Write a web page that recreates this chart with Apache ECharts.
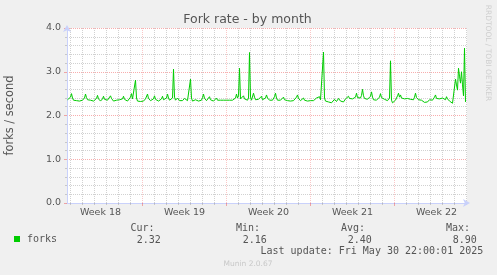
<!DOCTYPE html>
<html><head><meta charset="utf-8">
<script src="https://cdn.jsdelivr.net/npm/echarts@6/dist/echarts.min.js"></script>
<style>html,body{margin:0;padding:0;background:#f0f0f0;}#c{width:497px;height:275px;}</style>
</head><body><div id="c"></div>
<script>
// x values are in days since Sun 27 Apr 2025 00:00, one sample every 2 hours
const seriesName = 'forks';
const startDay = 0.75;
const stepDays = 1 / 12;
const forks = [
 2.36,2.35,2.38,2.42,2.50,2.40,2.35,2.33,2.36,2.34,2.37,2.35,2.33,2.34,2.36,2.35,2.33,2.40,2.49,2.41,
 2.36,2.34,2.33,2.35,2.34,2.36,2.33,2.31,2.35,2.39,2.46,2.38,2.34,2.33,2.35,2.38,2.44,2.37,2.34,2.33,
 2.35,2.34,2.38,2.45,2.39,2.35,2.33,2.34,2.36,2.35,2.32,2.34,2.36,2.35,2.33,2.38,2.44,2.37,2.34,2.35,
 2.33,2.35,2.37,2.42,2.50,2.38,2.34,2.36,2.81,2.40,2.33,2.35,2.34,2.32,2.36,2.35,2.33,2.35,2.38,2.42,
 2.49,2.39,2.35,2.34,2.36,2.33,2.38,2.45,2.37,2.34,2.35,2.33,2.36,2.34,2.38,2.44,2.36,2.34,2.35,2.40,
 2.49,2.40,2.35,2.34,2.36,2.40,3.06,2.42,2.35,2.33,2.40,2.36,2.34,2.33,2.35,2.34,2.36,2.39,2.43,2.37,
 2.34,2.35,2.38,2.83,2.40,2.33,2.35,2.32,2.36,2.40,2.35,2.33,2.34,2.36,2.35,2.41,2.49,2.39,2.35,2.34,
 2.36,2.38,2.43,2.36,2.34,2.35,2.33,2.36,2.37,2.40,2.35,2.34,2.36,2.35,2.35,2.35,2.35,2.35,2.35,2.35,
 2.35,2.35,2.35,2.35,2.35,2.35,2.35,2.35,2.40,2.49,2.40,2.45,3.08,2.38,2.34,2.36,2.45,2.38,2.34,2.36,
 2.35,2.40,3.44,2.42,2.35,2.38,2.51,2.42,2.36,2.34,2.35,2.37,2.35,2.39,2.44,2.36,2.34,2.35,2.40,2.47,
 2.40,2.36,2.35,2.33,2.36,2.35,2.38,2.43,2.51,2.40,2.35,2.34,2.37,2.35,2.33,2.38,2.42,2.36,2.35,2.37,
 2.34,2.36,2.35,2.33,2.35,2.36,2.34,2.35,2.38,2.42,2.47,2.39,2.35,2.34,2.36,2.37,2.40,2.35,2.33,2.34,
 2.33,2.32,2.33,2.34,2.32,2.33,2.34,2.33,2.36,2.40,2.37,2.38,2.43,2.36,2.34,2.38,3.45,2.40,2.33,2.30,
 2.29,2.31,2.30,2.32,2.29,2.31,2.33,2.37,2.34,2.32,2.35,2.39,2.35,2.33,2.36,2.34,2.31,2.35,2.38,2.36,
 2.38,2.44,2.39,2.37,2.40,2.38,2.40,2.37,2.42,2.51,2.41,2.39,2.38,2.40,2.46,2.60,2.45,2.39,2.38,2.40,
 2.37,2.35,2.38,2.44,2.54,2.42,2.36,2.35,2.33,2.35,2.36,2.38,2.42,2.50,2.41,2.38,2.42,2.37,2.35,2.33,
 2.34,2.36,2.40,3.25,2.35,2.29,2.28,2.30,2.35,2.38,2.45,2.51,2.42,2.47,2.40,2.37,2.36,2.38,2.35,2.37,
 2.39,2.36,2.43,2.37,2.35,2.38,2.36,2.42,2.51,2.41,2.38,2.36,2.39,2.37,2.35,2.34,2.33,2.30,2.31,2.30,
 2.31,2.33,2.36,2.40,2.37,2.35,2.38,2.42,2.47,2.39,2.37,2.36,2.38,2.35,2.37,2.40,2.43,2.38,2.36,2.43,
 2.38,2.36,2.33,2.31,2.29,2.28,2.29,2.30,2.83,2.70,2.58,3.08,2.90,2.74,3.00,2.70,2.45,3.54,2.31
];
const weekLabels = ['Week 18', 'Week 19', 'Week 20', 'Week 21', 'Week 22'];
const weekMidDays = [3.5, 10.5, 17.5, 24.5, 31.5];
const weekStartDays = [7, 14, 21, 28];
const dayLines = [1,2,3,4,5,6,7,8,9,10,11,12,13,14,15,16,17,18,19,20,21,22,23,24,25,26,27,28,29,30,31,32,33,34];
const xMin = 17 / 24;
const xMax = 17 / 24 + 400 / 12;
const yMin = 0, yMax = 4, yStep = 1;
const title = 'Fork rate - by month';
const yName = 'forks / second';
const statHeaders = ['Cur:', 'Min:', 'Avg:', 'Max:'];
const statValues = ['2.32', '2.16', '2.40', '8.90'];
const lastUpdate = 'Last update: Fri May 30 22:00:01 2025';
const footer = 'Munin 2.0.67';
const watermark = 'RRDTOOL / TOBI OETIKER';

const GREEN = '#00cc00';
const TXT = '#555';
const AXIS = '#c9d1fb';
const MINOR = 'rgba(140,140,140,0.4)';
const MAJOR = 'rgba(235,40,40,0.38)';
const MAJOR_V = 'rgba(235,40,40,0.26)';
const SANS = 'DejaVu Sans';
const MONO = 'DejaVu Sans Mono';

const chart = echarts.init(document.getElementById('c'), null, { renderer: 'canvas' });

const minorDayLines = dayLines.filter(d => weekStartDays.indexOf(d) < 0);

const headerX = [130.5, 236, 341, 446];
const valueX = [136.8, 242.8, 347.8, 452.8];
const graphics = [];
graphics.push({ type: 'text', x: 247.5, y: 19.6, style: { text: title, font: '12.5px "' + SANS + '"', fill: TXT, align: 'center', verticalAlign: 'middle' } });
graphics.push({ type: 'text', x: 10, y: 115.5, rotation: Math.PI / 2, style: { text: yName, font: '11.4px "' + SANS + '"', fill: TXT, align: 'center', verticalAlign: 'middle' } });
graphics.push({ type: 'text', x: 488, y: 53, rotation: -Math.PI / 2, style: { text: watermark, font: '7.5px "' + SANS + '"', fill: '#cfcfcf', align: 'center', verticalAlign: 'middle' } });
statHeaders.forEach((h, i) => {
  graphics.push({ type: 'text', x: headerX[i], y: 228, style: { text: h, font: '10px "' + MONO + '"', fill: TXT, align: 'left', verticalAlign: 'middle' } });
  graphics.push({ type: 'text', x: valueX[i], y: 240, style: { text: statValues[i], font: '10px "' + MONO + '"', fill: TXT, align: 'left', verticalAlign: 'middle' } });
});
graphics.push({ type: 'text', x: 260.5, y: 251.5, style: { text: lastUpdate, font: '10px "' + MONO + '"', fill: TXT, align: 'left', verticalAlign: 'middle' } });
graphics.push({ type: 'text', x: 248, y: 264, style: { text: footer, font: '7.5px "' + SANS + '"', fill: '#c8c8c8', align: 'center', verticalAlign: 'middle' } });

const baseX = { type: 'value', min: xMin, max: xMax, position: 'bottom', gridIndex: 0 };

const option = {
  animation: false,
  backgroundColor: '#f0f0f0',
  grid: { left: 67, top: 28, width: 400, height: 175, show: true, backgroundColor: '#ffffff', borderWidth: 0 },
  legend: {
    data: [{ name: seriesName, icon: 'rect' }], left: 14, top: 234, padding: 0,
    itemWidth: 6, itemHeight: 6, itemGap: 0,
    textStyle: { fontFamily: MONO, fontSize: 10, color: TXT, padding: [0, 0, 0, 2] }
  },
  xAxis: [
    Object.assign({}, baseX, {
      axisLine: { show: false },
      axisTick: { show: true, customValues: minorDayLines, length: 2, lineStyle: { color: MINOR } },
      axisLabel: { show: false },
      splitLine: { show: true, lineStyle: { color: MINOR, type: [1, 1], width: 1 } }
    }),
    Object.assign({}, baseX, {
      axisLine: { show: false },
      axisTick: { show: true, customValues: weekStartDays, length: 3, lineStyle: { color: MAJOR } },
      axisLabel: { show: false },
      splitLine: { show: true, lineStyle: { color: MAJOR_V, type: [1, 1], width: 1 } }
    }),
    Object.assign({}, baseX, {
      axisLine: { show: true, lineStyle: { color: AXIS, width: 1 }, symbol: ['none', 'arrow'], symbolSize: [6, 7], symbolOffset: [0, 3] },
      axisTick: { show: false },
      axisLabel: {
        show: true, customValues: weekMidDays, margin: 5,
        color: TXT, fontFamily: SANS, fontSize: 9.5,
        formatter: v => weekLabels[weekMidDays.findIndex(d => Math.abs(d - v) < 1e-6)] || ''
      },
      splitLine: { show: false }
    })
  ],
  yAxis: [{
    type: 'value', min: yMin, max: yMax, interval: yStep,
    axisLine: { show: true, lineStyle: { color: AXIS, width: 1 }, symbol: ['none', 'arrow'], symbolSize: [6, 7], symbolOffset: [0, 3] },
    axisTick: { show: true, length: 3, lineStyle: { color: MAJOR } },
    minorTick: { show: true, splitNumber: 5, length: 2, lineStyle: { color: MINOR } },
    axisLabel: { color: TXT, fontFamily: SANS, fontSize: 9.5, margin: 6, formatter: v => v.toFixed(1) },
    splitLine: { show: true, lineStyle: { color: MAJOR, type: [1, 1], width: 1 } },
    minorSplitLine: { show: true, lineStyle: { color: MINOR, type: [1, 1], width: 1 } }
  }],
  series: [{
    name: seriesName, type: 'line', xAxisIndex: 0, yAxisIndex: 0,
    showSymbol: false, symbol: 'none', color: GREEN,
    lineStyle: { color: GREEN, width: 1 },
    data: forks.map((v, i) => [startDay + i * stepDays, v]),
    z: 5
  }],
  graphic: graphics
};
chart.setOption(option);
</script>
</body></html>
